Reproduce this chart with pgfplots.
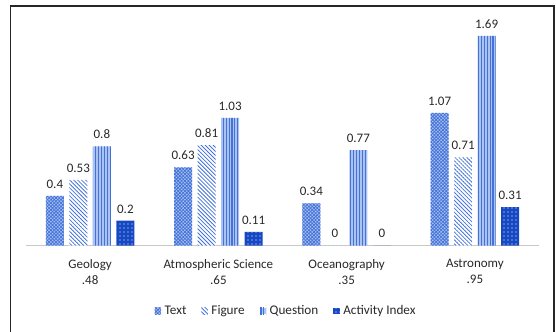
\documentclass[border=0pt]{standalone}
\usepackage{fontspec}
\setmainfont{Carlito}
\usepackage{pgfplots}
\pgfplotsset{compat=1.18}
\usetikzlibrary{patterns.meta}

\definecolor{barblue}{RGB}{68,114,216}
\definecolor{lightblue}{RGB}{170,195,240}
\definecolor{darkblue}{RGB}{22,72,196}
\definecolor{axisgray}{RGB}{200,200,200}
\definecolor{labelgray}{RGB}{40,40,40}

\begin{document}
\begin{tikzpicture}
\useasboundingbox (0,0) rectangle (556bp,332bp);
% outer frame (open at the bottom)
\draw[line width=1.3bp, black!85] (10.8bp,0) -- (10.8bp,326bp) -- (554bp,326bp) -- (554bp,0);
\begin{axis}[
  at={(26bp,86.5bp)}, anchor=south west,
  scale only axis, width=513bp, height=215bp,
  ybar, bar width=18bp,
  xmin=-0.5, xmax=3.5, ymin=0, ymax=1.734,
  axis x line=bottom, axis y line=none,
  x axis line style={-, draw=axisgray, line width=0.8bp},
  xtick={0,1,2,3},
  xticklabels={{Geology\\.48},{Atmospheric Science\\.65},{Oceanography\\.35},{Astronomy\\.95}},
  xtick style={draw=none},
  xticklabel style={align=center, font=\fontsize{13bp}{16bp}\selectfont, text=labelgray, yshift=-8bp},
  ytick=\empty,
  /pgf/number format/assume math mode=true,
  nodes near coords={\pgfmathprintnumber[fixed,precision=2]{\pgfplotspointmeta}},
  every node near coord/.append style={font=\fontsize{13bp}{14bp}\selectfont, text=labelgray, anchor=south, yshift=4bp},
  legend style={at={(0.507,-0.305)}, anchor=center, draw=none, fill=none,
    font=\fontsize{13.2bp}{14bp}\selectfont, text=labelgray,
    legend columns=-1, /tikz/every even column/.append style={column sep=13bp},
    /tikz/every odd column/.append style={column sep=1.5bp}},
  legend image code/.code={\path[#1] (0bp,-3bp) rectangle (6.5bp,3.5bp);},
]
\addplot[bar shift=-35.25bp, draw=none, fill=lightblue,
  postaction={pattern={Hatch[angle=45,distance=2.4bp,line width=0.75bp]}, pattern color=barblue}]
  coordinates {(0,0.4) (1,0.63) (2,0.34) (3,1.07)};
\addplot[bar shift=-11.75bp, draw=none, fill=white,
  postaction={pattern={Lines[angle=-45,distance=2.8bp,line width=0.8bp]}, pattern color=barblue}]
  coordinates {(0,0.53) (1,0.81) (2,0) (3,0.71)};
\addplot[bar shift=11.75bp, draw=none, fill=lightblue,
  postaction={pattern={Lines[angle=90,distance=2.9bp,line width=1.1bp]}, pattern color=barblue}]
  coordinates {(0,0.8) (1,1.03) (2,0.77) (3,1.69)};
\addplot[bar shift=35.25bp, draw=none, fill=darkblue,
  postaction={pattern={Dots[distance=4bp,radius=0.6bp]}, pattern color=white}]
  coordinates {(0,0.2) (1,0.11) (2,0) (3,0.31)};
\legend{Text, Figure, Question, Activity Index}
\end{axis}
\end{tikzpicture}
\end{document}
